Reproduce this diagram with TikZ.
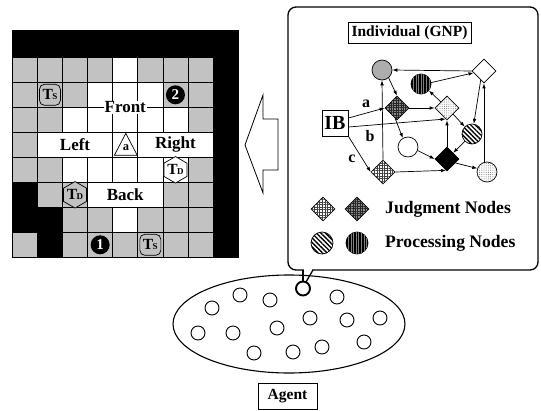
\documentclass[tikz,border=0pt]{standalone}
\usepackage{fontspec}
\setmainfont{Liberation Serif}
\usetikzlibrary{shapes.geometric,patterns,patterns.meta,arrows.meta}
\definecolor{cellgray}{gray}{0.76}
\begin{document}
\begin{tikzpicture}[x=1pt,y=-1pt,
  gline/.style={line width=0.8pt},
  lbl/.style={font=\fontsize{17}{17}\selectfont\bfseries, inner sep=1pt},
  jn/.style={diamond, draw, line width=0.7pt, minimum width=24pt, minimum height=24pt, inner sep=0pt},
  pn/.style={circle, draw, line width=0.7pt, minimum size=20pt, inner sep=0pt},
  lpn/.style={circle, draw, line width=0.7pt, minimum size=22pt, inner sep=0pt},
  ljn/.style={diamond, draw, line width=0.7pt, minimum width=24pt, minimum height=24pt, inner sep=0pt},
  grayfill/.style={fill=black!32},
  vstripe/.style={fill=black, postaction={pattern={Lines[angle=90,distance=2.6pt,line width=0.7pt]}, pattern color=black!50}},
  dstripe/.style={fill=white, postaction={pattern={Lines[angle=-45,distance=3.2pt,line width=1.4pt]}, pattern color=black}},
  darkgrid/.style={fill=black!45,
    postaction={pattern={Lines[angle=0,distance=2.4pt,line width=0.55pt]}, pattern color=black!85},
    postaction={pattern={Lines[angle=90,distance=2.4pt,line width=0.55pt]}, pattern color=black!85}},
  lightgrid/.style={fill=white,
    postaction={pattern={Lines[angle=0,distance=2.6pt,line width=0.7pt]}, pattern color=black!75},
    postaction={pattern={Lines[angle=90,distance=2.6pt,line width=0.7pt]}, pattern color=black!75}},
  dotfill/.style={fill=white, postaction={pattern={Dots[distance=2.2pt,radius=0.5pt]}, pattern color=black!55}},
  arr/.style={line width=0.7pt, -{Latex[length=5pt,width=3.6pt]}},
  ebox/.style={draw, line width=1pt, fill=white, inner sep=0pt},
  agentc/.style={circle, draw, line width=0.9pt, minimum size=14pt, inner sep=0pt},
  tsbox/.style={draw, line width=0.7pt, rounded corners=5pt, minimum size=21pt, inner sep=0pt, fill=cellgray, font=\fontsize{15.5}{15.5}\selectfont\bfseries},
  tdhex/.style={regular polygon, regular polygon sides=6, shape border rotate=30, draw, line width=0.7pt, minimum size=25pt, inner sep=0pt, font=\fontsize{15.5}{15.5}\selectfont\bfseries},
  numc/.style={circle, fill=black, minimum size=19pt, inner sep=0pt, text=white, font=\fontsize{15}{15}\selectfont\bfseries}
]
\useasboundingbox (0,0) rectangle (541,410);
\def\gxo{12.3}\def\gyo{32.3}\def\cw{25.1}\def\ch{25}
% ---------- grid ----------
\fill[white] (12.3,30) rectangle (238.2,257.3);
\foreach \r/\c in {1/0,1/1,1/2,1/3,1/5,1/6,1/7,
                   2/0,2/1,2/2,2/6,2/7,
                   3/0,3/1,3/7,
                   4/0,
                   5/0,5/1,5/7,
                   6/1,6/2,6/6,6/7,
                   7/2,7/3,7/5,7/6,7/7,
                   8/0,8/2,8/3,8/4,8/5,8/6,8/7}
  \fill[cellgray] (\gxo+\c*\cw,\gyo+\r*\ch) rectangle ++(\cw,\ch);
\foreach \r/\c in {6/0,7/0,7/1,8/1}
  \fill[black] (\gxo+\c*\cw,\gyo+\r*\ch) rectangle ++(\cw,\ch);
\fill[black] (12.3,30) rectangle (238.2,57.3);
\fill[black] (\gxo+8*\cw,30) rectangle (238.2,257.3);
\foreach \k in {0,...,8}
  \draw[gline] (\gxo+\k*\cw,57.3) -- (\gxo+\k*\cw,257.3);
\foreach \k in {1,...,9}
  \draw[gline] (12.3,\gyo+\k*\ch) -- (238.2,\gyo+\k*\ch);
\draw[gline] (12.3,30) rectangle (238.2,257.3);
% white strips
\fill[white] (\gxo+1*\cw+0.5,\gyo+4*\ch+0.5) rectangle (\gxo+4*\cw-0.5,\gyo+5*\ch-0.5);
\fill[white] (\gxo+5*\cw+0.5,\gyo+4*\ch+0.5) rectangle (\gxo+8*\cw-0.5,\gyo+5*\ch-0.5);
\fill[white] (\gxo+3*\cw+0.5,\gyo+6*\ch+0.5) rectangle (\gxo+6*\cw-0.5,\gyo+7*\ch-0.5);
% labels
\node[lbl, fill=white] (front) at (\gxo+4.5*\cw,\gyo+3*\ch) {Front};
\node[lbl] (left) at (\gxo+2.5*\cw,\gyo+4.5*\ch) {Left};
\node[lbl] (right) at (\gxo+6.5*\cw,\gyo+4.5*\ch) {Right};
\node[lbl] (back) at (\gxo+4.5*\cw,\gyo+6.5*\ch) {Back};
% agent triangle
\draw[line width=0.7pt, fill=white] (114.4,155.2) -- (125.8,133.4) -- (137.2,155.2) -- cycle;
\node[font=\fontsize{12.5}{12.5}\selectfont\bfseries, inner sep=0pt] (agenta) at (125.9,148) {a};
% items
\node[tsbox] (ts1) at (\gxo+1.5*\cw,\gyo+2.5*\ch) {T\kern-0.6pt{\fontsize{9}{9}\selectfont S}};
\node[tsbox] (ts2) at (\gxo+5.5*\cw,\gyo+8.5*\ch) {T\kern-0.6pt{\fontsize{9}{9}\selectfont S}};
\node[tdhex, fill=white] (td1) at (\gxo+6.5*\cw,\gyo+5.5*\ch) {T\kern-0.6pt{\fontsize{9}{9}\selectfont D}};
\node[tdhex, fill=cellgray] (td2) at (\gxo+2.5*\cw,\gyo+6.5*\ch) {T\kern-0.6pt{\fontsize{9}{9}\selectfont D}};
\node[numc] (n2) at (\gxo+6.5*\cw,\gyo+2.5*\ch) {2};
\node[numc] (n1) at (\gxo+3.5*\cw,\gyo+8.5*\ch) {1};
% ---------- hollow arrow ----------
\draw[line width=0.8pt, fill=white] (245,145) -- (263,95) -- (263,119) -- (278,119) -- (278,170) -- (263,170) -- (263,193) -- cycle;
% ---------- callout box ----------
\draw[line width=1.3pt, rounded corners=8pt] (288,7) rectangle (538,270);
\fill[white] (303.6,268.5) rectangle (312.4,271.5);
\draw[line width=1.3pt] (303,270) -- (303,282);
\draw[line width=1.3pt] (313,270) -- (306,282);
\node[ebox, minimum width=123pt, minimum height=21pt, font=\fontsize{15.5}{16}\selectfont\bfseries] (indiv) at (409.5,32.5) {Individual (GNP)};
% ---------- GNP graph ----------
\node[pn, grayfill] (g1) at (382,70) {};
\node[pn, vstripe] (bc) at (421,84) {};
\node[jn, fill=white] (wd) at (484,71) {};
\node[jn, darkgrid] (dd) at (397,108) {};
\node[jn, dotfill] (pd) at (447,108) {};
\node[pn, dstripe] (sc) at (472,134) {};
\node[pn, fill=white] (wc) at (408,147) {};
\node[jn, fill=black] (bd) at (447,159) {};
\node[jn, lightgrid] (cd) at (383,172) {};
\node[pn, dotfill] (lc) at (487,172) {};
\node[ebox, minimum width=26pt, minimum height=26pt, font=\fontsize{20}{20}\selectfont\bfseries] (ib) at (335,123) {IB};
\node[font=\fontsize{16}{16}\selectfont\bfseries, inner sep=0pt] (la) at (366,104) {a};
\node[font=\fontsize{16}{16}\selectfont\bfseries, inner sep=0pt] (lb) at (370,136) {b};
\node[font=\fontsize{16}{16}\selectfont\bfseries, inner sep=0pt] (lcc) at (352,159) {c};
\draw[arr] ([yshift=5pt]ib.east) -- (dd.west);
\draw[arr] ([yshift=-4pt]ib.east) -- (pd.-97);
\draw[arr] (ib.south east) -- (cd.west);
\draw[arr] (cd.north) -- (g1.south);
\draw[arr] (cd.east) -- (bd.-95);
\draw[arr] (g1.-50) -- (dd.north);
\draw[arr] (dd.east) -- (pd.west);
\draw[arr] (dd.-100) -- (wc.120);
\draw[arr] (wc.-20) -- (bd.west);
\draw[arr] (bd.-25) -- (lc.160);
\draw[arr] (wd.south |- lc.north) -- (wd.south);
\draw[arr] (wd.west) -- (g1.east);
\draw[arr] (bc.8) -- (wd.190);
\draw[arr] (wd.250) -- (sc.80);
\draw[arr] (pd.north west) -- (bc.-40);
\draw[arr] (pd.south east) -- (sc.135);
\draw[arr] (sc.225) -- (bd.north east);
\draw[arr] (bd.north) -- (pd.south);
% ---------- legend ----------
\node[ljn, lightgrid] (leg1) at (323,209) {};
\node[ljn, darkgrid] (leg2) at (357,209) {};
\node[lpn, dstripe] (leg3) at (322,243) {};
\node[lpn, vstripe] (leg4) at (357,243) {};
\node[anchor=west, inner sep=0pt, font=\fontsize{17.6}{17.6}\selectfont\bfseries] (jtext) at (385,209) {Judgment Nodes};
\node[anchor=west, inner sep=0pt, font=\fontsize{17.6}{17.6}\selectfont\bfseries] (ptext) at (385,243) {Processing Nodes};
% ---------- agent population ----------
\draw[line width=1.1pt] (289,324) ellipse [x radius=116, y radius=49];
\foreach \n/\x/\y in {a1/240/295,a2/270/300,a4/337/297,a5/212/308,a6/310/318,a7/347/320,a8/380/318,
                      a9/198/333,a10/233/333,a11/277/328,a12/254/353,a13/293/352,a14/322/347,a15/364/342}
  \node[agentc] (\n) at (\x,\y) {};
\node[agentc, line width=1.9pt] (a3) at (303,288.5) {};
\node[ebox, minimum width=59pt, minimum height=26pt, font=\fontsize{15.5}{16}\selectfont\bfseries] (agent) at (287.5,396) {Agent};
\end{tikzpicture}
\end{document}
